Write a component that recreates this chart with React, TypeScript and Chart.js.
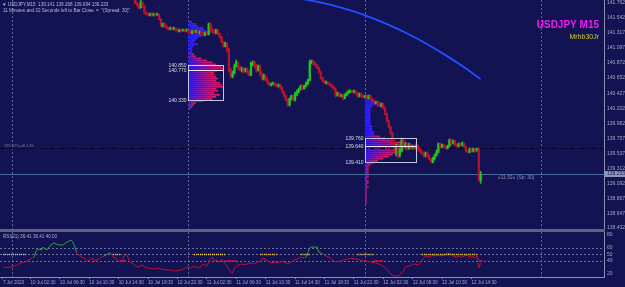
import React, { useEffect, useRef } from 'react';
import { Chart, registerables } from 'chart.js';
Chart.register(...registerables);

const BG = '#131354';
const AXIS = '#8a8fab';
const GRID_DOT = '#5e6496';
const TXT = '#a4a8c0';
const FONT = '"Liberation Sans", Arial, sans-serif';
const BULL = '#22c422';
const BEAR = '#b8122e';

// ---------- axis ticks / time labels ----------
const PRICE_TICKS = [141.762, 141.542, 141.317, 141.097, 140.872, 140.652, 140.427, 140.202, 139.982, 139.757, 139.537, 139.312, 139.092, 138.867, 138.647, 138.432];
const PRICE_MIN = 138.417;
const PRICE_MAX = 141.806;
const RSI_TICKS = [80, 60, 50, 40, 20];
const RSI_LEVELS = [60, 50, 40];
const RSI_MIN = 15.4;
const RSI_MAX = 84.6;
const X_MIN = -1.58;
const X_MAX = 327.13;
const TIME_LABEL_BARS = [0, 15, 31, 47, 63, 79, 95, 111, 127, 143, 159, 175, 191, 207, 223, 239, 255];
const TIME_LABELS = ['7 Jul 2023', '10 Jul 02:30', '10 Jul 06:30', '10 Jul 10:30', '10 Jul 14:30', '10 Jul 18:30', '10 Jul 22:30', '11 Jul 02:30', '11 Jul 06:30', '11 Jul 10:30', '11 Jul 14:30', '11 Jul 18:30', '11 Jul 22:30', '12 Jul 02:30', '12 Jul 06:30', '12 Jul 10:30', '12 Jul 14:30'];
const DAY_BARS = [5, 101, 197, 293];

// ---------- candles (M15), bar index 70..260 ----------
const CANDLE_FIRST_BAR = 70;
const FIRST_OPEN = 141.895;
const CLOSES = [
  141.924, 141.836, 141.762, 141.732, 141.688, 141.776, 141.717, 141.614, 141.599, 141.584,
  141.599, 141.584, 141.599, 141.584, 141.599, 141.525, 141.421, 141.451, 141.421, 141.392,
  141.377, 141.392, 141.377, 141.392, 141.362, 141.347, 141.362, 141.347, 141.362, 141.347,
  141.362, 141.332, 141.318, 141.347, 141.332, 141.347, 141.318, 141.332, 141.303, 141.288,
  141.318, 141.303, 141.451, 141.362, 141.332, 141.318, 141.362, 141.303, 141.258, 141.184,
  141.125, 141.170, 141.066, 140.770, 140.681, 140.726, 140.829, 140.888, 140.800, 140.770,
  140.785, 140.755, 140.785, 140.740, 140.696, 140.874, 140.888, 140.829, 140.770, 140.829,
  140.711, 140.637, 140.681, 140.622, 140.578, 140.548, 140.563, 140.578, 140.548, 140.533,
  140.548, 140.504, 140.444, 140.385, 140.326, 140.252, 140.341, 140.385, 140.326, 140.415,
  140.444, 140.489, 140.533, 140.489, 140.533, 140.578, 140.622, 140.888, 140.903, 140.859,
  140.844, 140.800, 140.740, 140.652, 140.607, 140.578, 140.592, 140.563, 140.548, 140.518,
  140.489, 140.400, 140.430, 140.385, 140.400, 140.356, 140.400, 140.430, 140.444, 140.459,
  140.444, 140.459, 140.430, 140.385, 140.415, 140.385, 140.370, 140.385, 140.356, 140.385,
  140.341, 140.311, 140.282, 140.296, 140.252, 140.237, 140.267, 140.208, 140.119, 140.015,
  139.926, 139.838, 139.704, 139.586, 139.645, 139.512, 139.586, 139.734, 139.645, 139.675,
  139.616, 139.660, 139.630, 139.645, 139.616, 139.645, 139.601, 139.556, 139.542, 139.512,
  139.542, 139.497, 139.453, 139.408, 139.468, 139.512, 139.556, 139.675, 139.630, 139.660,
  139.630, 139.616, 139.645, 139.734, 139.690, 139.719, 139.660, 139.645, 139.675, 139.660,
  139.690, 139.630, 139.571, 139.556, 139.601, 139.571, 139.601, 139.571, 139.601, 139.141,
  139.233,
];
const HIGHS = [
  141.954, 141.954, 141.865, 141.776, 141.747, 141.806, 141.776, 141.732, 141.628, 141.614,
  141.614, 141.614, 141.614, 141.599, 141.614, 141.599, 141.525, 141.466, 141.466, 141.436,
  141.406, 141.406, 141.406, 141.406, 141.392, 141.377, 141.377, 141.377, 141.377, 141.377,
  141.377, 141.362, 141.347, 141.362, 141.362, 141.362, 141.362, 141.347, 141.332, 141.332,
  141.332, 141.332, 141.466, 141.466, 141.392, 141.362, 141.377, 141.362, 141.318, 141.273,
  141.199, 141.184, 141.170, 141.096, 140.800, 140.755, 140.859, 140.918, 140.888, 140.829,
  140.814, 140.800, 140.800, 140.800, 140.755, 140.888, 140.903, 140.903, 140.859, 140.844,
  140.844, 140.740, 140.711, 140.696, 140.637, 140.592, 140.578, 140.592, 140.578, 140.563,
  140.563, 140.563, 140.518, 140.459, 140.400, 140.341, 140.356, 140.400, 140.400, 140.444,
  140.474, 140.504, 140.548, 140.548, 140.548, 140.592, 140.637, 140.918, 140.918, 140.903,
  140.888, 140.859, 140.814, 140.755, 140.666, 140.622, 140.607, 140.592, 140.578, 140.563,
  140.533, 140.504, 140.444, 140.444, 140.415, 140.415, 140.415, 140.444, 140.474, 140.474,
  140.474, 140.474, 140.474, 140.444, 140.430, 140.430, 140.400, 140.400, 140.400, 140.400,
  140.400, 140.356, 140.326, 140.311, 140.311, 140.282, 140.282, 140.282, 140.222, 140.134,
  140.030, 139.941, 139.853, 139.734, 139.675, 139.660, 139.616, 139.764, 139.749, 139.704,
  139.690, 139.690, 139.675, 139.660, 139.660, 139.675, 139.660, 139.616, 139.586, 139.556,
  139.556, 139.556, 139.512, 139.468, 139.482, 139.527, 139.586, 139.690, 139.690, 139.675,
  139.675, 139.645, 139.660, 139.749, 139.749, 139.734, 139.734, 139.675, 139.690, 139.690,
  139.704, 139.690, 139.645, 139.586, 139.616, 139.616, 139.616, 139.616, 139.616, 139.616,
  139.268,
];
const LOWS = [
  141.895, 141.806, 141.747, 141.717, 141.673, 141.688, 141.702, 141.599, 141.584, 141.569,
  141.569, 141.569, 141.569, 141.569, 141.584, 141.510, 141.406, 141.406, 141.406, 141.377,
  141.362, 141.362, 141.362, 141.362, 141.347, 141.332, 141.332, 141.332, 141.347, 141.332,
  141.347, 141.318, 141.303, 141.303, 141.318, 141.318, 141.303, 141.303, 141.288, 141.273,
  141.273, 141.288, 141.288, 141.347, 141.318, 141.303, 141.303, 141.288, 141.244, 141.170,
  141.110, 141.110, 141.036, 140.740, 140.652, 140.652, 140.711, 140.814, 140.770, 140.755,
  140.740, 140.726, 140.740, 140.711, 140.681, 140.681, 140.829, 140.800, 140.740, 140.755,
  140.681, 140.622, 140.622, 140.607, 140.563, 140.533, 140.533, 140.548, 140.533, 140.518,
  140.518, 140.489, 140.430, 140.370, 140.311, 140.237, 140.237, 140.326, 140.311, 140.311,
  140.385, 140.430, 140.474, 140.474, 140.489, 140.518, 140.548, 140.607, 140.859, 140.844,
  140.829, 140.785, 140.726, 140.637, 140.592, 140.563, 140.563, 140.548, 140.533, 140.504,
  140.474, 140.370, 140.385, 140.370, 140.370, 140.326, 140.341, 140.385, 140.415, 140.430,
  140.430, 140.430, 140.415, 140.370, 140.370, 140.370, 140.356, 140.356, 140.341, 140.341,
  140.326, 140.296, 140.267, 140.267, 140.237, 140.222, 140.222, 140.193, 140.104, 140.000,
  139.912, 139.823, 139.675, 139.556, 139.497, 139.468, 139.482, 139.556, 139.616, 139.616,
  139.586, 139.601, 139.601, 139.601, 139.586, 139.601, 139.571, 139.542, 139.512, 139.482,
  139.482, 139.482, 139.438, 139.394, 139.394, 139.438, 139.497, 139.542, 139.616, 139.616,
  139.616, 139.601, 139.601, 139.630, 139.660, 139.675, 139.645, 139.630, 139.630, 139.645,
  139.645, 139.616, 139.556, 139.542, 139.542, 139.556, 139.556, 139.556, 139.571, 139.127,
  139.094,
];

// ---------- moving average ----------
const MA_BARS = [155, 160, 165, 170, 180, 190, 200, 210, 220, 230, 240, 250, 260];
const MA_VALUES = [141.849, 141.832, 141.811, 141.786, 141.723, 141.645, 141.550, 141.437, 141.310, 141.167, 141.005, 140.829, 140.635];

// ---------- market profiles ----------
const PROFILE_ROW = 0.03;
const PROFILE1_START = 101;
const PROFILE1_TOP = 141.48;
const PROFILE1_SPLIT = 141.0;
const PROFILE1_COUNTS = [2, 4, 5, 8, 9, 12, 10, 7, 5, 4, 3, 5, 3, 2, 2, 2, 3, 4, 7, 10, 13, 15, 18, 19, 16, 14, 14, 15, 16, 15, 17, 18, 19, 15, 16, 14, 17, 15, 13, 8, 4, 3, 2, 1];
const PROFILE2_START = 197;
const PROFILE2_TOP = 140.385;
const PROFILE2_SPLIT = 139.79;
const PROFILE2_COUNTS = [2, 3, 5, 8, 7, 4, 3, 3, 3, 3, 3, 3, 3, 3, 3, 4, 4, 4, 5, 5, 8, 11, 15, 20, 24, 28, 25, 21, 18, 15, 13, 10, 7, 5, 3, 2, 2, 2, 2, 2, 2, 1, 2, 2, 1, 2, 1, 1, 1, 1, 1, 1, 1, 1];
const BOX1 = [101, 120, 140.850, 140.770, 140.330];
const BOX2 = [197, 225, 139.760, 139.640, 139.410];

// ---------- lines / info ----------
const BID = 139.233;
const DAY_LEVEL = 139.623;
const HEADER1 = '▼ USDJPY,M15  139.141 139.268 139.094 139.233';
const HEADER2 = '11 Minutes and 32 Seconds left to Bar Close. =  "(Spread: 30)"';
const TITLE = 'USDJPY M15';
const SUBTITLE = 'Mrhb30Jr';
const TIMER = '«11:32» (Sp: 30)';
const DAY_LEVEL_TEXT = '139.623 pdl 1.36';

// ---------- RSI ----------
const RSI_TITLE = 'RSI(21) 36.41 36.41 40.00';
const RSI_BARS = [0, 2, 5, 8, 10, 12, 14, 16, 17, 18, 19, 21, 22, 23, 24, 26, 28, 29, 31, 33, 34, 36, 37, 38, 39, 40, 41, 43, 45, 46, 47, 49, 50, 52, 53, 55, 57, 58, 59, 60, 62, 63, 65, 66, 67, 68, 69, 71, 72, 74, 76, 77, 79, 82, 84, 86, 89, 91, 94, 97, 98, 100, 102, 104, 106, 108, 109, 111, 113, 114, 115, 116, 118, 119, 120, 122, 124, 125, 126, 128, 130, 132, 134, 137, 138, 140, 141, 142, 144, 146, 148, 150, 152, 155, 157, 159, 161, 162, 164, 165, 167, 168, 170, 171, 172, 174, 176, 178, 181, 184, 187, 189, 192, 195, 198, 200, 203, 206, 208, 210, 211, 213, 214, 216, 218, 219, 221, 223, 224, 226, 227, 229, 230, 232, 234, 235, 237, 238, 240, 242, 243, 244, 245, 247, 249, 250, 252, 254, 255, 257, 258, 259, 260];
const RSI_VALUES = [30.8, 30, 31, 34, 37, 38.5, 41.5, 44.6, 46, 55.4, 58.5, 57, 61.5, 58.5, 57, 64.6, 67.7, 66, 64.6, 64.6, 67.7, 70.8, 72.3, 69.2, 63, 53.8, 49.2, 46, 43, 40, 41.5, 44.6, 40, 43, 44.6, 47.7, 50.8, 52.8, 50.8, 46, 43, 40, 40, 49.2, 50.8, 46, 38.5, 35.4, 32.3, 30.8, 34, 30.8, 29.2, 27.7, 29.2, 27.7, 26.2, 26.2, 24.6, 26.2, 27.7, 30.8, 29.2, 32.3, 29.2, 32.3, 35.4, 32.3, 43, 46, 40, 41.5, 38.5, 43, 38.5, 32.3, 23, 21.5, 29.2, 34, 35.4, 34, 37, 35.4, 38.5, 38.5, 43, 44.6, 40, 37, 38.5, 37, 40, 35.4, 38.5, 41.5, 44.6, 46, 44.6, 46, 60, 61.5, 61.5, 61.5, 53.8, 50.8, 47.7, 44.6, 38.5, 40, 43, 44.6, 43, 41.5, 40, 38.5, 37, 34, 29.2, 24.6, 20, 17, 17, 18.5, 24.6, 30.8, 32.3, 34, 35.4, 34, 37, 44.6, 47.7, 46, 49.2, 47.7, 49.2, 47.7, 49.2, 50.8, 52.3, 49.2, 47.7, 46, 47.7, 46, 49.2, 46, 47.7, 44.6, 47.7, 29.2, 36.41];
const SIGNAL_LEVEL = 50;
const SIGNAL_RUNS = [[0, 13], [60, 64], [104, 121], [140, 149], [162, 167], [193, 202], [228, 258]];
const EXIT_LEVEL = 40;
const EXIT_RUNS = [[64, 67], [121, 127], [202, 207], [259, 261]];

const RSI_UP = '#1fae2a';
const RSI_DOWN = '#c0102e';

function runsToPoints(runs: number[][], level: number) {
  const pts: any[] = [];
  runs.forEach(([a, b]) => {
    pts.push({ x: a, y: level }, { x: b, y: level }, { x: b + 0.5, y: null });
  });
  return pts;
}

function fixAxis(w: number | null, h: number | null) {
  return (s: any) => {
    if (w !== null) s.width = w;
    if (h !== null) s.height = h;
    s.paddingTop = 0;
    s.paddingBottom = 0;
    s.paddingLeft = 0;
    s.paddingRight = 0;
  };
}

function drawDayLines(chart: any) {
  const { ctx, chartArea: a, scales } = chart;
  ctx.save();
  ctx.strokeStyle = GRID_DOT;
  ctx.lineWidth = 1;
  ctx.setLineDash([2, 2]);
  DAY_BARS.forEach((b) => {
    const px = Math.round(scales.x.getPixelForValue(b)) + 0.5;
    if (px < a.left || px > a.right) return;
    ctx.beginPath();
    ctx.moveTo(px, a.top);
    ctx.lineTo(px, a.bottom);
    ctx.stroke();
  });
  ctx.restore();
}

function drawProfile(chart: any, start: number, top: number, split: number, counts: number[]) {
  const { ctx, scales } = chart;
  const xs = scales.x;
  const ys = scales.y;
  counts.forEach((n, k) => {
    const p = top - k * PROFILE_ROW;
    const y0 = ys.getPixelForValue(p + PROFILE_ROW / 2);
    const y1 = ys.getPixelForValue(p - PROFILE_ROW / 2);
    const x0 = xs.getPixelForValue(start);
    const x1 = xs.getPixelForValue(start + n);
    const g = ctx.createLinearGradient(x0, 0, x1, 0);
    if (p > split) {
      g.addColorStop(0, '#1c1cff');
      g.addColorStop(1, '#4424ff');
    } else {
      g.addColorStop(0, '#3020f4');
      g.addColorStop(1, '#f21656');
    }
    ctx.fillStyle = g;
    ctx.fillRect(x0, y0, x1 - x0, y1 - y0 - 0.3);
  });
}

function drawBox(chart: any, box: number[]) {
  const { ctx, scales } = chart;
  const [s, e, hi, mid, lo] = box;
  const x0 = Math.round(scales.x.getPixelForValue(s)) + 0.5;
  const x1 = Math.round(scales.x.getPixelForValue(e)) + 0.5;
  const yh = Math.round(scales.y.getPixelForValue(hi)) + 0.5;
  const ym = Math.round(scales.y.getPixelForValue(mid)) + 0.5;
  const yl = Math.round(scales.y.getPixelForValue(lo)) + 0.5;
  ctx.save();
  ctx.strokeStyle = '#c4c6da';
  ctx.lineWidth = 1;
  ctx.strokeRect(x0, yh, x1 - x0, yl - yh);
  ctx.strokeStyle = '#ececf8';
  ctx.beginPath();
  ctx.moveTo(x0, ym);
  ctx.lineTo(x1, ym);
  ctx.stroke();
  ctx.fillStyle = '#dcdcec';
  ctx.font = `5px ${FONT}`;
  ctx.textAlign = 'right';
  ctx.textBaseline = 'middle';
  [[hi, yh], [mid, ym], [lo, yl]].forEach(([v, py]) => ctx.fillText(v.toFixed(3), x0 - 2, py));
  ctx.restore();
}

const mainDecor = {
  id: 'mainDecor',
  beforeDatasetsDraw(chart: any) {
    const { ctx, chartArea: a, scales } = chart;
    drawDayLines(chart);
    ctx.save();
    ctx.beginPath();
    ctx.rect(a.left, a.top, a.right - a.left, a.bottom - a.top);
    ctx.clip();
    drawProfile(chart, PROFILE1_START, PROFILE1_TOP, PROFILE1_SPLIT, PROFILE1_COUNTS);
    drawProfile(chart, PROFILE2_START, PROFILE2_TOP, PROFILE2_SPLIT, PROFILE2_COUNTS);
    const yd = Math.round(scales.y.getPixelForValue(DAY_LEVEL)) + 0.5;
    ctx.strokeStyle = '#05051c';
    ctx.lineWidth = 1;
    ctx.setLineDash([5, 2, 1, 2]);
    ctx.beginPath();
    ctx.moveTo(a.left, yd);
    ctx.lineTo(a.right, yd);
    ctx.stroke();
    ctx.setLineDash([]);
    ctx.fillStyle = '#7478a0';
    ctx.font = `4px ${FONT}`;
    ctx.textBaseline = 'middle';
    ctx.fillText(DAY_LEVEL_TEXT, 4, yd - 3);
    const yb = Math.round(scales.y.getPixelForValue(BID)) + 0.5;
    ctx.strokeStyle = '#46689a';
    ctx.beginPath();
    ctx.moveTo(a.left, yb);
    ctx.lineTo(a.right, yb);
    ctx.stroke();
    ctx.restore();
  },
  afterDatasetsDraw(chart: any) {
    drawBox(chart, BOX1);
    drawBox(chart, BOX2);
  },
  afterDraw(chart: any) {
    const { ctx, chartArea: a, scales } = chart;
    ctx.save();
    ctx.fillStyle = '#5d6186';
    ctx.fillRect(0, a.bottom, a.right + 1, 3);
    ctx.fillStyle = '#b8bcd2';
    ctx.font = `4.6px ${FONT}`;
    ctx.textBaseline = 'middle';
    ctx.textAlign = 'left';
    ctx.fillText(HEADER1, 2, 4.5);
    ctx.fillText(HEADER2, 3, 11);
    ctx.textAlign = 'right';
    ctx.textBaseline = 'alphabetic';
    ctx.fillStyle = '#f21cf2';
    ctx.font = `bold 10px ${FONT}`;
    ctx.fillText(TITLE, 599, 28);
    ctx.fillStyle = '#d2cc3c';
    ctx.font = `7px ${FONT}`;
    ctx.fillText(SUBTITLE, 599, 39);
    const yb = scales.y.getPixelForValue(BID);
    ctx.textAlign = 'left';
    ctx.textBaseline = 'middle';
    ctx.fillStyle = '#8c90ae';
    ctx.font = `5px ${FONT}`;
    ctx.fillText(TIMER, scales.x.getPixelForValue(260) + 17, yb + 4);
    ctx.fillStyle = '#8e98b6';
    ctx.fillRect(a.right + 1, Math.round(yb) - 3, 20, 6);
    ctx.fillStyle = '#1a1c52';
    ctx.font = `5px ${FONT}`;
    ctx.fillText(BID.toFixed(3), a.right + 3, Math.round(yb));
    ctx.restore();
  },
};

const rsiDecor = {
  id: 'rsiDecor',
  beforeDatasetsDraw(chart: any) {
    const { ctx, chartArea: a, scales } = chart;
    drawDayLines(chart);
    ctx.save();
    ctx.strokeStyle = '#6a70a2';
    ctx.lineWidth = 1;
    ctx.setLineDash([2, 2]);
    RSI_LEVELS.forEach((lv) => {
      const py = Math.round(scales.y.getPixelForValue(lv)) + 0.5;
      ctx.beginPath();
      ctx.moveTo(a.left, py);
      ctx.lineTo(a.right, py);
      ctx.stroke();
    });
    ctx.restore();
  },
  afterDraw(chart: any) {
    const { ctx } = chart;
    ctx.save();
    ctx.fillStyle = '#aeb2c8';
    ctx.font = `4.6px ${FONT}`;
    ctx.textBaseline = 'middle';
    ctx.fillText(RSI_TITLE, 3, 4.5);
    ctx.restore();
  },
};

export default function App() {
  const mainRef = useRef<HTMLCanvasElement>(null);
  const rsiRef = useRef<HTMLCanvasElement>(null);

  useEffect(() => {
    document.body.style.margin = '0';
    document.body.style.background = BG;

    const bars = CLOSES.map((c, k) => {
      const o = k === 0 ? FIRST_OPEN : CLOSES[k - 1];
      return { i: CANDLE_FIRST_BAR + k, o, h: HIGHS[k], l: LOWS[k], c };
    });
    const colors = bars.map((b) => (b.c >= b.o ? BULL : BEAR));

    const main = new Chart(mainRef.current as HTMLCanvasElement, {
      type: 'bar',
      data: {
        datasets: [
          {
            type: 'line',
            data: MA_BARS.map((b, k) => ({ x: b, y: MA_VALUES[k] })),
            borderColor: '#2050ff',
            borderWidth: 1.8,
            pointRadius: 0,
            cubicInterpolationMode: 'monotone',
            order: 1,
          } as any,
          {
            type: 'bar',
            data: bars.map((b) => ({ x: b.i, y: [b.o, b.c] })),
            backgroundColor: colors,
            barThickness: 1.6,
            minBarLength: 1,
            grouped: false,
            order: 2,
          } as any,
          {
            type: 'bar',
            data: bars.map((b) => ({ x: b.i, y: [b.l, b.h] })),
            backgroundColor: colors,
            barThickness: 1,
            grouped: false,
            order: 3,
          } as any,
        ],
      },
      options: {
        animation: false,
        responsive: false,
        maintainAspectRatio: false,
        layout: { padding: { top: 0, left: 0, right: 0, bottom: 3 } },
        plugins: { legend: { display: false }, tooltip: { enabled: false } },
        scales: {
          x: { type: 'linear', min: X_MIN, max: X_MAX, display: false, offset: false },
          y: {
            position: 'right',
            min: PRICE_MIN,
            max: PRICE_MAX,
            afterBuildTicks: (s: any) => {
              s.ticks = PRICE_TICKS.map((v) => ({ value: v }));
            },
            afterFit: fixAxis(21, null),
            ticks: {
              font: { size: 5, family: FONT },
              color: TXT,
              padding: 3,
              callback: (v: any) => Number(v).toFixed(3),
            },
            grid: { display: false, drawTicks: false },
            border: { display: true, color: AXIS },
          },
        },
      } as any,
      plugins: [mainDecor],
    });

    const rsi = new Chart(rsiRef.current as HTMLCanvasElement, {
      type: 'line',
      data: {
        datasets: [
          {
            data: runsToPoints(SIGNAL_RUNS, SIGNAL_LEVEL),
            borderColor: '#e8c64a',
            borderWidth: 1.6,
            borderDash: [1, 1],
            pointRadius: 0,
            spanGaps: false,
            order: 1,
          },
          {
            data: runsToPoints(EXIT_RUNS, EXIT_LEVEL),
            borderColor: '#d81034',
            borderWidth: 1.4,
            pointRadius: 0,
            spanGaps: false,
            order: 2,
          },
          {
            data: RSI_BARS.map((b, k) => ({ x: b, y: RSI_VALUES[k] })),
            borderColor: RSI_DOWN,
            borderWidth: 1,
            pointRadius: 0,
            segment: {
              borderColor: (c: any) => (c.p1.parsed.y >= 50 ? RSI_UP : RSI_DOWN),
            },
            order: 3,
          },
        ],
      },
      options: {
        animation: false,
        responsive: false,
        maintainAspectRatio: false,
        layout: { padding: 0 },
        plugins: { legend: { display: false }, tooltip: { enabled: false } },
        scales: {
          x: {
            type: 'linear',
            min: X_MIN,
            max: X_MAX,
            position: 'bottom',
            offset: false,
            afterBuildTicks: (s: any) => {
              s.ticks = TIME_LABEL_BARS.map((v) => ({ value: v }));
            },
            afterFit: fixAxis(null, 10),
            ticks: {
              font: { size: 4.6, family: FONT },
              color: TXT,
              padding: 1,
              align: 'start',
              autoSkip: false,
              maxRotation: 0,
              callback: (_v: any, idx: number) => TIME_LABELS[idx],
            },
            grid: { display: true, drawOnChartArea: false, drawTicks: true, tickLength: 2, color: AXIS },
            border: { display: true, color: AXIS },
          },
          y: {
            position: 'right',
            min: RSI_MIN,
            max: RSI_MAX,
            afterBuildTicks: (s: any) => {
              s.ticks = RSI_TICKS.map((v) => ({ value: v }));
            },
            afterFit: fixAxis(21, null),
            ticks: { font: { size: 5, family: FONT }, color: TXT, padding: 3 },
            grid: { display: false, drawTicks: false },
            border: { display: true, color: AXIS },
          },
        },
      } as any,
      plugins: [rsiDecor],
    });

    return () => {
      main.destroy();
      rsi.destroy();
    };
  }, []);

  return (
    <div style={{ width: 625, height: 287, background: BG, overflow: 'hidden' }}>
      <canvas ref={mainRef} width={625} height={232} style={{ display: 'block' }} />
      <canvas ref={rsiRef} width={625} height={55} style={{ display: 'block' }} />
    </div>
  );
}
